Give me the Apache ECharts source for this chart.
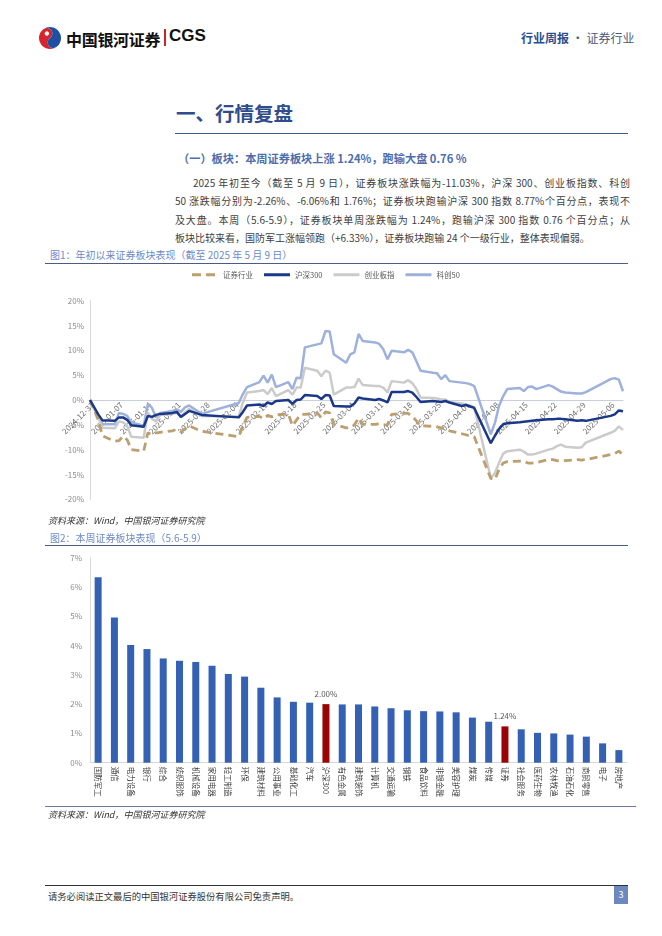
<!DOCTYPE html>
<html><head><meta charset="utf-8">
<script src="https://cdn.jsdelivr.net/npm/echarts@6/dist/echarts.min.js"></script>
<style>
html,body{margin:0;padding:0;background:#fff;}
body{width:662px;height:936px;position:relative;overflow:hidden;font-family:"Noto Sans CJK SC","Noto Sans",sans-serif;color:#333;}
.abs{position:absolute;white-space:nowrap;}
.para{position:absolute;left:175px;width:455px;font-size:10px;color:#404040;line-height:18px;height:18px;white-space:nowrap;}
.just{text-align:justify;text-align-last:justify;}
.cap{font-size:10px;color:#6d8bc7;}
.hr{position:absolute;height:0;}
.src{font-size:9px;color:#333;font-style:italic;}
</style></head><body>

<!-- header -->
<svg class="abs" style="left:38px;top:26px" width="24" height="24" viewBox="0 0 24 24">
  <g transform="rotate(-35 12 12)">
    <path d="M12,1 A11,11 0 0,0 12,23 A5.5,5.5 0 0,1 12,12 A5.5,5.5 0 0,0 12,1 Z" fill="#d7262b"/>
    <path d="M12,1 A11,11 0 0,1 12,23 A5.5,5.5 0 0,1 12,12 A5.5,5.5 0 0,0 12,1 Z" fill="#1f4fa3"/>
    <circle cx="12" cy="6.5" r="2.2" fill="#fff"/>
  </g>
</svg>
<div class="abs" style="left:66px;top:27px;font-size:16px;font-weight:bold;color:#111;letter-spacing:-0.3px;">中国银河证券</div>
<div class="abs" style="left:164px;top:29px;width:2px;height:17px;background:#c9252b;"></div>
<div class="abs" style="left:169px;top:26px;font-size:17px;font-weight:bold;color:#111;font-family:'Liberation Sans',Arial,sans-serif;">CGS</div>
<div class="abs" style="left:521px;top:29px;font-size:12px;color:#4a5a78;"><span style="color:#2c4f8f;font-weight:bold;">行业周报</span> · 证券行业</div>

<!-- title -->
<div class="abs" style="left:176px;top:98px;font-size:19.5px;font-weight:bold;color:#2f4d8a;">一、行情复盘</div>
<div class="hr" style="left:175px;top:133px;width:453px;border-top:1.5px solid #3c5a96;"></div>
<div class="abs" style="left:178px;top:150px;font-size:11.2px;font-weight:bold;color:#4d6dab;">（一）板块：本周证券板块上涨 1.24%，跑输大盘 0.76 %</div>

<div class="para just" style="top:174px;padding-left:18px;width:437px;">2025 年初至今（截至 5 月 9 日），证券板块涨跌幅为-11.03%，沪深 300、创业板指数、科创</div>
<div class="para just" style="top:192px;">50 涨跌幅分别为-2.26%、-6.06%和 1.76%；证券板块跑输沪深 300 指数 8.77%个百分点，表现不</div>
<div class="para just" style="top:211px;">及大盘。本周（5.6-5.9），证券板块单周涨跌幅为 1.24%，跑输沪深 300 指数 0.76 个百分点；从</div>
<div class="para" style="top:229px;">板块比较来看，国防军工涨幅领跑（+6.33%），证券板块跑输 24 个一级行业，整体表现偏弱。</div>

<!-- figure 1 -->
<div class="abs cap" style="left:50px;top:247px;">图1：年初以来证券板块表现（截至 2025 年 5 月 9 日）</div>
<div class="hr" style="left:45px;top:263px;width:583px;border-top:1px solid #4b5d85;"></div>
<div id="c1" class="abs" style="left:0;top:255px;width:662px;height:260px;"></div>
<div class="abs src" style="left:48px;top:514px;">资料来源：Wind，中国银河证券研究院</div>

<!-- figure 2 -->
<div class="abs cap" style="left:50px;top:530px;">图2：本周证券板块表现（5.6-5.9）</div>
<div class="hr" style="left:45px;top:545px;width:583px;border-top:1px solid #4b5d85;"></div>
<div id="c2" class="abs" style="left:0;top:545px;width:662px;height:262px;"></div>
<div class="hr" style="left:45px;top:806px;width:591px;border-top:1px solid #6b7a9c;"></div>
<div class="abs src" style="left:48px;top:808px;">资料来源：Wind，中国银河证券研究院</div>

<!-- footer -->
<div class="hr" style="left:45px;top:885px;width:583px;border-top:1px solid #333;"></div>
<div class="abs" style="left:48px;top:889px;font-size:9.3px;color:#333;">请务必阅读正文最后的中国银河证券股份有限公司免责声明。</div>
<div class="abs" style="left:614px;top:886px;width:14px;height:18px;background:#6d87bf;color:#fff;font-size:9px;text-align:center;line-height:18px;">3</div>

<script>
// ---------- Figure 1 data ----------
const axisStart = '2024-12-31';
const axisEnd = '2025-05-09';
const labelEveryDays = 7;
const tradeDates = [
 '2024-12-31','2025-01-02','2025-01-03','2025-01-06','2025-01-07','2025-01-08','2025-01-09','2025-01-10',
 '2025-01-13','2025-01-14','2025-01-15','2025-01-16','2025-01-17','2025-01-20','2025-01-21','2025-01-22',
 '2025-01-23','2025-01-24','2025-01-27','2025-02-05','2025-02-06','2025-02-07','2025-02-10','2025-02-11',
 '2025-02-12','2025-02-13','2025-02-14','2025-02-17','2025-02-18','2025-02-19','2025-02-20','2025-02-21',
 '2025-02-24','2025-02-25','2025-02-26','2025-02-27','2025-02-28','2025-03-03','2025-03-04','2025-03-05',
 '2025-03-06','2025-03-07','2025-03-10','2025-03-11','2025-03-12','2025-03-13','2025-03-14','2025-03-17',
 '2025-03-18','2025-03-19','2025-03-20','2025-03-21','2025-03-24','2025-03-25','2025-03-26','2025-03-27',
 '2025-03-28','2025-03-31','2025-04-01','2025-04-02','2025-04-03','2025-04-07','2025-04-08','2025-04-09',
 '2025-04-10','2025-04-11','2025-04-14','2025-04-15','2025-04-16','2025-04-17','2025-04-18','2025-04-21',
 '2025-04-22','2025-04-23','2025-04-24','2025-04-25','2025-04-28','2025-04-29','2025-04-30','2025-05-06',
 '2025-05-07','2025-05-08','2025-05-09'];
const securities = [
 0,-4.0,-7.2,-8.3,-8.2,-7.3,-8.0,-10.0,-10.3,-6.6,-7.0,-6.6,-6.5,-6.2,-5.9,-6.4,-5.8,-5.2,-6.3,
 -7.4,-5.2,-3.5,-3.3,-3.8,-3.1,-3.4,-3.0,-2.8,-5.2,-4.0,-2.9,-2.9,-2.6,-3.6,-2.4,-2.6,-4.9,
 -5.6,-5.6,-5.0,-3.6,-4.9,-4.9,-4.8,-5.0,-5.0,-2.9,-2.7,-2.7,-3.3,-4.2,-5.2,-5.3,-5.4,-5.6,-5.8,-6.2,
 -6.8,-7.0,-7.3,-7.4,-15.8,-16.0,-14.0,-12.7,-12.4,-12.3,-12.3,-12.7,-12.7,-12.6,-12.0,-12.0,-12.2,-12.3,-12.2,
 -12.0,-12.1,-12.0,-11.0,-10.8,-10.3,-11.03];
const hs300 = [
 0,-2.9,-4.1,-4.2,-3.5,-3.5,-4.0,-5.1,-5.4,-3.2,-3.4,-3.0,-2.8,-2.6,-2.4,-3.4,-2.8,-2.2,-3.0,
 -3.5,-2.4,-1.1,-0.9,-1.2,-0.5,-0.8,-0.2,0.0,-0.8,0.0,0.1,1.0,0.8,0.2,1.0,0.9,-1.2,
 -1.3,-1.3,-0.7,0.5,0.3,0.0,0.2,-0.1,-0.5,1.6,1.6,1.8,1.5,0.6,-0.4,-0.2,-0.3,-0.4,-0.2,-0.5,
 -1.2,-1.0,-1.3,-1.6,-8.7,-7.2,-5.8,-4.9,-4.7,-4.5,-4.4,-4.3,-4.2,-4.1,-3.9,-3.9,-3.8,-3.8,-3.9,
 -4.2,-4.1,-4.2,-3.2,-2.9,-2.1,-2.26];
const chinext = [
 0,-3.5,-5.6,-5.7,-4.3,-4.5,-5.2,-7.4,-7.6,-2.5,-3.8,-4.3,-3.0,-2.8,-2.6,-3.3,-2.5,-1.8,-3.2,
 -3.3,-0.5,1.5,1.8,2.0,1.2,2.4,0.8,2.0,1.1,2.5,2.5,6.5,5.9,4.8,5.9,5.5,1.1,
 2.5,2.5,2.6,4.3,3.0,2.8,2.8,2.5,1.5,3.8,3.5,4.0,3.4,2.2,0.5,0.4,0.3,0.1,0.1,-0.4,
 -0.7,-0.9,-1.1,-1.5,-15.7,-14.7,-12.7,-10.8,-10.3,-10.0,-10.4,-11.0,-11.0,-10.8,-10.0,-9.8,-9.3,-9.0,-9.4,
 -9.6,-9.5,-8.6,-6.6,-6.2,-5.3,-6.06];
const star50 = [
 0,-3.5,-4.9,-4.9,-2.6,-2.8,-3.2,-4.5,-5.2,-0.8,-1.6,-3.5,-2.6,-2.2,-1.9,-2.4,-1.5,-1.1,-2.8,
 -0.6,1.2,2.6,3.6,4.9,3.5,5.1,2.6,3.6,2.2,4.5,4.4,10.6,11.2,11.4,13.9,13.8,9.2,
 7.5,9.2,9.6,13.3,11.9,11.6,11.3,10.2,8.2,9.9,9.6,10.1,9.6,7.8,5.9,5.5,5.4,4.2,5.0,3.8,
 3.5,3.4,3.2,2.8,-6.9,-4.6,-1.2,0.8,2.2,2.4,1.8,2.6,2.7,2.2,3.0,2.7,2.2,1.7,1.5,
 1.3,1.3,1.6,4.2,4.4,4.1,1.76];

// ---------- Figure 2 data ----------
const industries = ['国防军工','通信','电力设备','银行','综合','纺织服饰','机械设备','家用电器','轻工制造','环保','建筑材料','公用事业','基础化工','汽车','沪深300','有色金属','建筑装饰','计算机','交通运输','钢铁','食品饮料','非银金融','美容护理','煤炭','传媒','证券','社会服务','医药生物','农林牧渔','石油石化','商贸零售','电子','房地产'];
const weeklyChange = [6.33,4.96,4.02,3.88,3.56,3.48,3.44,3.31,3.03,2.94,2.56,2.23,2.08,2.05,2.00,1.99,1.99,1.92,1.86,1.79,1.76,1.75,1.72,1.54,1.40,1.24,1.14,1.02,1.00,0.96,0.89,0.66,0.43];
const highlighted = ['沪深300','证券'];

// ---------- build calendar categories ----------
const calendarDays = [];
for (let t = Date.parse(axisStart + 'T00:00:00Z'); t <= Date.parse(axisEnd + 'T00:00:00Z'); t += 86400000) {
  calendarDays.push(new Date(t).toISOString().slice(0, 10));
}
const tickLabelDays = calendarDays.filter((d, i) => i % labelEveryDays === 0);
function toPairs(vals) { return tradeDates.map((d, i) => [calendarDays.indexOf(d), vals[i]]); }

const FONT = '"Noto Sans CJK SC","Noto Sans",sans-serif';
const c1 = echarts.init(document.getElementById('c1'), null, {renderer: 'canvas'});
function lineSeries(name, vals, color, z, dashed) {
  return {
    name, type: 'line', data: toPairs(vals), showSymbol: false, symbol: 'none', z,
    smooth: false, connectNulls: true,
    lineStyle: {color, width: dashed ? 2.8 : 2.5, type: dashed ? [8, 5] : 'solid', cap: 'butt'},
    itemStyle: {color}, emphasis: {disabled: true}
  };
}
const lineIcon = 'path://M0,0h26v3h-26z';
const dashIcon = 'path://M0,0h9v3h-9z M14,0h9v3h-9z M26,0h0.01v3h-0.01z';
c1.setOption({
  animation: false,
  textStyle: {fontFamily: FONT},
  legend: {
    left: 187, top: 11, itemWidth: 26, itemHeight: 3, itemGap: 11,
    textStyle: {fontSize: 7.5, color: '#595959', fontFamily: FONT},
    data: [
      {name: '证券行业', icon: dashIcon},
      {name: '沪深300', icon: lineIcon},
      {name: '创业板指', icon: lineIcon},
      {name: '科创50', icon: lineIcon}
    ]
  },
  grid: {left: 90, right: 39, top: 45.7, bottom: 15.7, outerBoundsMode: 'none', containLabel: false},
  xAxis: {
    type: 'category', data: calendarDays, boundaryGap: false,
    axisLine: {onZero: true, lineStyle: {color: '#c9cfdc', width: 1}},
    axisTick: {show: false},
    axisLabel: {show: false},
    splitLine: {show: false}
  },
  yAxis: {
    type: 'value', min: -20, max: 20, interval: 5,
    axisLine: {show: true, lineStyle: {color: '#d9d9d9'}},
    axisTick: {show: false},
    axisLabel: {formatter: '{value}%', fontSize: 8, color: '#8c8c8c', margin: 6, fontFamily: FONT},
    splitLine: {show: false}
  },
  series: [
    {
      name: 'xlabels', type: 'scatter', silent: true, z: 1, symbolSize: 1, symbol: 'rect',
      itemStyle: {color: 'rgba(255,255,255,0)'},
      emphasis: {disabled: true},
      labelLayout: {hideOverlap: false},
      data: tickLabelDays.map(d => [calendarDays.indexOf(d), 0]),
      label: {
        show: true, position: [3, 4], rotate: 45, align: 'right', verticalAlign: 'middle',
        formatter: p => calendarDays[p.value[0]], fontSize: 8, color: '#454545', fontFamily: FONT
      }
    },
    lineSeries('科创50', star50, '#9db1dc', 2),
    lineSeries('创业板指', chinext, '#cbcbcb', 3),
    lineSeries('证券行业', securities, '#bc9f70', 4, true),
    lineSeries('沪深300', hs300, '#1b3888', 5)
  ]
});

const c2 = echarts.init(document.getElementById('c2'), null, {renderer: 'canvas'});
c2.setOption({
  animation: false,
  textStyle: {fontFamily: FONT},
  grid: {left: 90, right: 35, top: 12.7, bottom: 44.3, outerBoundsMode: 'none', containLabel: false},
  xAxis: {
    type: 'category', data: industries,
    axisLine: {lineStyle: {color: '#d9d9d9'}},
    axisTick: {show: false},
    axisLabel: {interval: 0, rotate: -90, fontSize: 7.5, color: '#404040', margin: 4, fontFamily: FONT}
  },
  yAxis: {
    type: 'value', min: 0, max: 7, interval: 1,
    axisLine: {show: true, lineStyle: {color: '#d9d9d9'}},
    axisTick: {show: false},
    axisLabel: {formatter: '{value}%', fontSize: 8, color: '#8c8c8c', margin: 8, fontFamily: FONT},
    splitLine: {show: false}
  },
  series: [{
    type: 'bar', barWidth: 7,
    data: weeklyChange.map((v, i) => {
      const hi = highlighted.includes(industries[i]);
      return {
        value: v,
        itemStyle: {color: hi ? '#9a0303' : '#3461b3'},
        label: {show: hi, position: 'top', distance: 6, formatter: (p) => p.value.toFixed(2) + '%', fontSize: 8, color: '#595959', fontFamily: FONT}
      };
    })
  }]
});
</script>
</body></html>
